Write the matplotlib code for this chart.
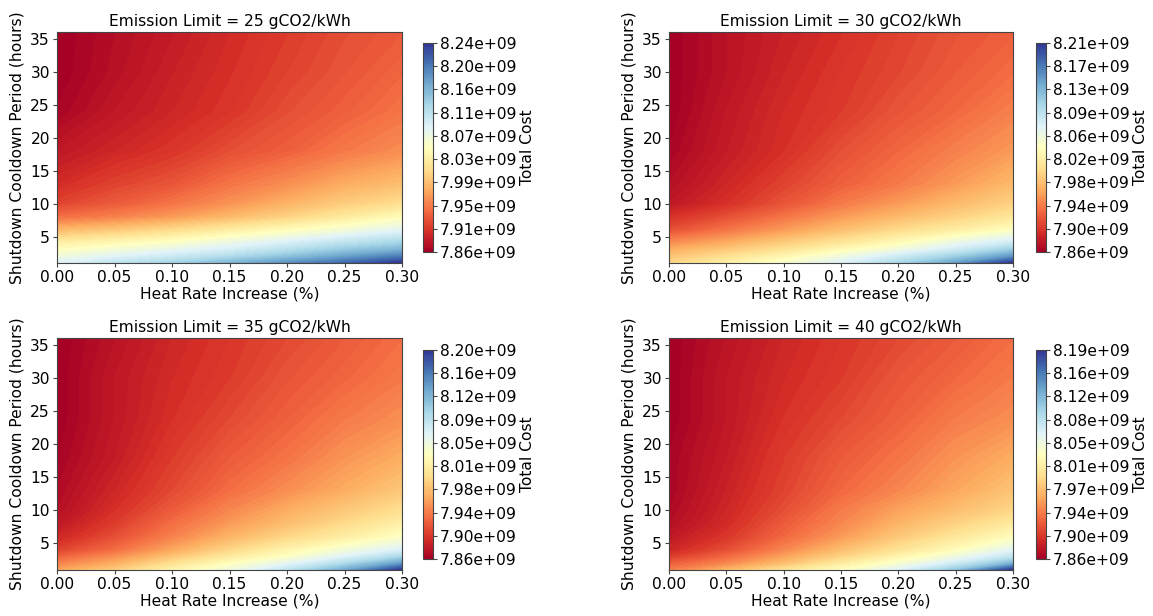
import numpy as np
import matplotlib
matplotlib.use('Agg')
import matplotlib.pyplot as plt

# grid
heat_rate = [0.00, 0.05, 0.10, 0.15, 0.20, 0.25, 0.30]
cooldown = [1, 2, 3, 4, 6, 8, 10, 13, 18, 24, 30, 36]
emission_limits = [25, 30, 35, 40]

# total cost in 1e9, one row per cooldown value (ascending)
cost_25 = [
    [8.088, 8.111, 8.130, 8.156, 8.182, 8.208, 8.240],
    [8.070, 8.088, 8.103, 8.122, 8.145, 8.171, 8.197],
    [8.051, 8.066, 8.081, 8.096, 8.118, 8.141, 8.160],
    [8.032, 8.044, 8.058, 8.077, 8.096, 8.115, 8.132],
    [7.984, 7.995, 8.010, 8.029, 8.047, 8.066, 8.085],
    [7.939, 7.950, 7.965, 7.984, 8.003, 8.025, 8.047],
    [7.913, 7.928, 7.943, 7.961, 7.980, 7.999, 8.014],
    [7.898, 7.913, 7.924, 7.943, 7.958, 7.976, 7.988],
    [7.883, 7.894, 7.905, 7.920, 7.931, 7.946, 7.958],
    [7.868, 7.883, 7.894, 7.905, 7.920, 7.931, 7.943],
    [7.864, 7.877, 7.890, 7.901, 7.913, 7.924, 7.935],
    [7.864, 7.875, 7.886, 7.898, 7.909, 7.920, 7.928],
]
cost_30 = [
    [7.994, 8.018, 8.043, 8.071, 8.106, 8.149, 8.212],
    [7.980, 8.001, 8.025, 8.054, 8.082, 8.113, 8.156],
    [7.966, 7.983, 8.004, 8.029, 8.054, 8.082, 8.117],
    [7.948, 7.966, 7.987, 8.008, 8.032, 8.061, 8.085],
    [7.913, 7.934, 7.955, 7.976, 7.997, 8.015, 8.036],
    [7.895, 7.913, 7.934, 7.955, 7.973, 7.990, 8.008],
    [7.878, 7.895, 7.916, 7.937, 7.955, 7.973, 7.990],
    [7.871, 7.888, 7.906, 7.923, 7.937, 7.955, 7.973],
    [7.864, 7.881, 7.895, 7.913, 7.927, 7.941, 7.955],
    [7.860, 7.878, 7.892, 7.902, 7.916, 7.927, 7.941],
    [7.860, 7.874, 7.888, 7.899, 7.909, 7.920, 7.930],
    [7.860, 7.874, 7.885, 7.895, 7.906, 7.916, 7.923],
]
cost_35 = [
    [7.958, 7.984, 8.018, 8.048, 8.084, 8.131, 8.198],
    [7.941, 7.964, 7.998, 8.028, 8.058, 8.094, 8.141],
    [7.924, 7.948, 7.978, 8.008, 8.034, 8.064, 8.098],
    [7.907, 7.931, 7.961, 7.991, 8.018, 8.044, 8.068],
    [7.891, 7.914, 7.941, 7.968, 7.991, 8.011, 8.034],
    [7.881, 7.904, 7.931, 7.954, 7.974, 7.994, 8.014],
    [7.874, 7.897, 7.921, 7.944, 7.964, 7.981, 7.998],
    [7.871, 7.891, 7.911, 7.931, 7.948, 7.964, 7.981],
    [7.867, 7.884, 7.904, 7.921, 7.934, 7.951, 7.964],
    [7.864, 7.881, 7.897, 7.911, 7.924, 7.937, 7.948],
    [7.864, 7.881, 7.894, 7.904, 7.917, 7.927, 7.937],
    [7.864, 7.877, 7.891, 7.901, 7.911, 7.921, 7.931],
]
cost_40 = [
    [7.935, 7.965, 7.998, 8.028, 8.061, 8.108, 8.1945],
    [7.918, 7.941, 7.971, 8.005, 8.035, 8.071, 8.121],
    [7.901, 7.925, 7.955, 7.985, 8.015, 8.045, 8.081],
    [7.888, 7.911, 7.941, 7.971, 7.998, 8.025, 8.058],
    [7.878, 7.898, 7.925, 7.951, 7.978, 8.001, 8.025],
    [7.871, 7.891, 7.918, 7.941, 7.965, 7.985, 8.005],
    [7.868, 7.888, 7.911, 7.935, 7.955, 7.971, 7.988],
    [7.865, 7.885, 7.905, 7.925, 7.941, 7.958, 7.975],
    [7.865, 7.881, 7.901, 7.918, 7.931, 7.948, 7.961],
    [7.8612, 7.878, 7.895, 7.908, 7.921, 7.935, 7.945],
    [7.8612, 7.878, 7.891, 7.901, 7.915, 7.925, 7.935],
    [7.8612, 7.875, 7.888, 7.898, 7.908, 7.918, 7.928],
]
costs = [cost_25, cost_30, cost_35, cost_40]

plt.rcParams['font.size'] = 11.2
plt.rcParams['axes.titlesize'] = 11.2
plt.rcParams['axes.edgecolor'] = '#444444'
plt.rcParams['xtick.color'] = '#444444'
plt.rcParams['ytick.color'] = '#444444'
plt.rcParams['xtick.labelcolor'] = 'black'
plt.rcParams['ytick.labelcolor'] = 'black'
plt.rcParams['xtick.major.size'] = 2.6
plt.rcParams['ytick.major.size'] = 2.6
plt.rcParams['xtick.major.pad'] = 2.4
plt.rcParams['ytick.major.pad'] = 2.4

W, H = 1153, 616
def box(l, t, r, b):
    return [l / W, 1 - b / H, (r - l) / W, (b - t) / H]

# (axes box, colorbar box) in pixels
layout = [
    (box(57, 32, 402, 263), box(423, 43, 433, 252)),
    (box(669, 32, 1013, 263), box(1036, 43, 1046, 252)),
    (box(57, 338, 402, 570), box(423, 350, 433, 559)),
    (box(669, 338, 1013, 570), box(1036, 350, 1046, 559)),
]

fig = plt.figure(figsize=(11.53, 6.16), dpi=100)
X, Y = np.meshgrid(heat_rate, cooldown)

for limit, cost, (ax_box, cb_box) in zip(emission_limits, costs, layout):
    ax = fig.add_axes(ax_box)
    Z = np.array(cost) * 1e9
    levels = np.linspace(Z.min(), Z.max(), 100)
    cs = ax.contourf(X, Y, Z, levels=levels, cmap='RdYlBu')
    ax.set_title(f'Emission Limit = {limit} gCO2/kWh', pad=4)
    ax.set_xlabel('Heat Rate Increase (%)', labelpad=1)
    ax.set_ylabel('Shutdown Cooldown Period (hours)', labelpad=4)
    ax.set_xticks([0.0, 0.05, 0.10, 0.15, 0.20, 0.25, 0.30])
    ax.set_yticks([5, 10, 15, 20, 25, 30, 35])

    cax = fig.add_axes(cb_box)
    cbar = fig.colorbar(cs, cax=cax, ticks=np.linspace(Z.min(), Z.max(), 10), format='%.2e')
    cbar.set_label('Total Cost', labelpad=2)
    cbar.outline.set_edgecolor('#444444')

fig.savefig('out.png', dpi=100)
